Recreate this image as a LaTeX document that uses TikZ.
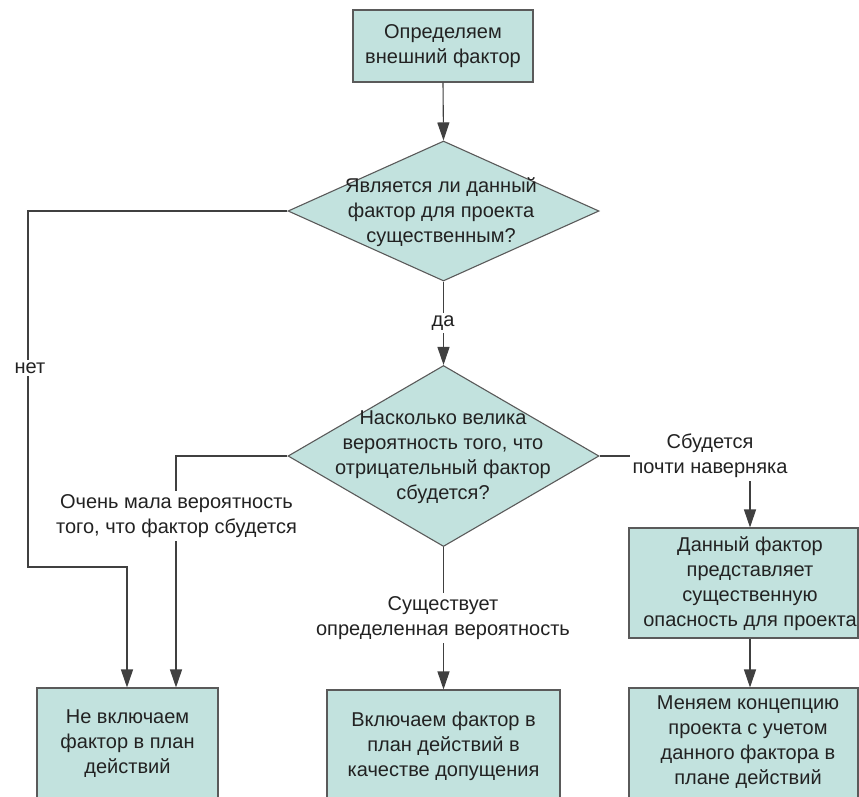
\documentclass[tikz,border=0pt]{standalone}
\usepackage{fontspec}
\setmainfont{Liberation Sans}
\usetikzlibrary{shapes.geometric,arrows.meta,calc}
\definecolor{boxfill}{HTML}{C2E2DE}
\definecolor{boxline}{HTML}{5A5A5A}
\definecolor{conn}{HTML}{404040}
\definecolor{txt}{HTML}{222222}
\tikzset{
  fnt/.style={font=\fontsize{20}{25}\selectfont, text=txt, align=center},
  box/.style={fnt, draw=boxline, fill=boxfill, line width=1.1pt, inner sep=0pt},
  dia/.style={shape=diamond, draw=boxline, fill=boxfill, line width=1.1pt, inner sep=0pt, aspect=2},
  txtonly/.style={fnt, inner sep=0pt},
  lbl/.style={fnt, fill=white, inner sep=3pt},
  arr/.style={draw=conn, line width=1.1pt, -{Triangle[width=12pt,length=18pt]}},
}
\begin{document}
\begin{tikzpicture}[x=1pt,y=-1pt]
\useasboundingbox (0,0) rectangle (859,796);
\clip (0,0) rectangle (859,796);
\fill[white] (0,0) rectangle (859,796);

% nodes
\node[box, minimum width=180pt, minimum height=72pt] (top) at (443,46) {Определяем\\внешний фактор};
\node[dia, minimum width=311pt, minimum height=140pt] (d1) at (443.5,211) {};
\node[txtonly] (d1t) at (441,212) {Является ли данный\\фактор для проекта\\существенным?};
\node[dia, minimum width=311pt, minimum height=181pt] (d2) at (443.5,456) {};
\node[txtonly] (d2t) at (443,457) {Насколько велика\\вероятность того, что\\отрицательный фактор\\сбудется?};

\node[box, minimum width=181pt, minimum height=112pt] (b1) at (127.5,744) {Не включаем\\фактор в план\\действий};
\node[box, minimum width=233pt, minimum height=112pt] (bm) at (443.5,746) {Включаем фактор в\\план действий в\\качестве допущения};
\node[box, minimum width=229pt, minimum height=110pt] (b2) at (743.5,583) {};
\node[txtonly] (b2t) at (750,584) {Данный фактор\\представляет\\существенную\\опасность для проекта};
\node[box, minimum width=229pt, minimum height=112pt] (b3) at (743.5,744) {};
\node[txtonly] (b3t) at (748,742) {Меняем концепцию\\проекта с учетом\\данного фактора в\\плане действий};

% helper coordinates
\coordinate (n1) at (28,567);
\coordinate (nx) at (127,0);
\coordinate (lx) at (176,0);

% connectors
\draw[arr] (top.south) -- (d1.north);
\draw[arr] (d1.south) -- (d2.north);
\draw[arr] (d1.west) -| (n1) -| (b1.north -| nx);
\draw[arr] (d2.west) -| (b1.north -| lx);
\draw[arr] (d2.south) -- (bm.north);
\draw[arr] (d2.east) -| (b2.north -| b2t);
\draw[arr] (b2.south -| b2t) -- (b3.north -| b2t);

% labels
\node[lbl] (lda) at (443,323) {да};
\node[lbl] (lnet) at (30,368) {нет};
\node[lbl] (llow) at (176.5,516) {Очень мала вероятность\\того, что фактор сбудется};
\node[lbl] (lmid) at (443,618) {Существует\\определенная вероятность};
\node[lbl] (lhigh) at (710,456) {Сбудется\\почти наверняка};
\end{tikzpicture}
\end{document}
